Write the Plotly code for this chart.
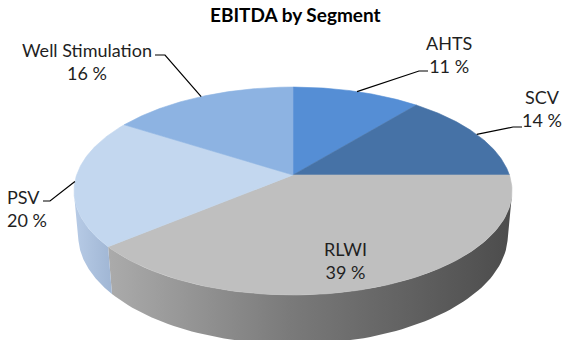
import numpy as np
import plotly.graph_objects as go

# ---- data ----
labels = ["AHTS", "SCV", "RLWI", "PSV", "Well Stimulation"]
values = [11, 14, 39, 20, 16]
pct_text = ["11 %", "14 %", "39 %", "20 %", "16 %"]
title_text = "<b>EBITDA by Segment</b>"

# ---- styles ----
top_colors = ["#558ED5", "#4672A6", "#BFBFBF", "#C3D7EF", "#8DB3E2"]
side_scales = [
    [[0, "#3f6fae"], [1, "#2d5589"]],
    [[0, "#36598a"], [1, "#2a4a75"]],
    [[0, "#ababab"], [0.45, "#7a7a7a"], [1, "#4c4c4c"]],
    [[0, "#b7cbe6"], [1, "#a0b6d4"]],
    [[0, "#7b9fce"], [1, "#6a8fbf"]],
]
FONT = "Lato"
W, H = 562, 340

# ---- geometry (pixel layout) ----
CX, CY = 293.0, 175.0
R = 216.4
SIN_A, COS_A = 0.469, 0.883
DIST = 5.73
DEPTH = 0.235


def project(phi_deg, level):
    phi = np.radians(phi_deg)
    y = -DEPTH * level
    depth = -y * SIN_A + np.sin(phi) * COS_A
    up = y * COS_A + np.sin(phi) * SIN_A
    s = DIST / (DIST + depth)
    return CX + R * np.cos(phi) * s, CY - R * up * s


total = float(sum(values))
bounds = [90.0]
for v in values:
    bounds.append(bounds[-1] - 360.0 * v / total)

# visible side range (outward normal facing camera)
lim = np.degrees(np.arcsin(1.0 / (DIST * COS_A)))
vis_lo, vis_hi = -180.0 + lim, -lim

fig = go.Figure()

# sides
for i in range(len(values)):
    a, b = bounds[i + 1], bounds[i]
    for shift in (0.0, -360.0):
        lo, hi = max(a + shift, vis_lo), min(b + shift, vis_hi)
        if hi <= lo:
            continue
        ph = np.linspace(hi, lo, 80)
        tx, ty = project(ph, 0)
        bx, by = project(ph[::-1], 1)
        xs = np.concatenate([tx, bx, tx[:1]])
        ys = np.concatenate([ty, by, ty[:1]])
        fig.add_trace(go.Scatter(
            x=xs, y=ys, mode="lines", fill="toself",
            line=dict(width=0, color=side_scales[i][-1][1]),
            fillgradient=dict(type="horizontal", colorscale=side_scales[i]),
            hoverinfo="skip", showlegend=False))

# top faces
for i in range(len(values)):
    ph = np.linspace(bounds[i], bounds[i + 1], 120)
    ax_, ay_ = project(ph, 0)
    xs = np.concatenate([[CX], ax_, [CX]])
    ys = np.concatenate([[CY], ay_, [CY]])
    fig.add_trace(go.Scatter(
        x=xs, y=ys, mode="lines", fill="toself", fillcolor=top_colors[i],
        line=dict(width=0.6, color=top_colors[i]),
        hoverinfo="skip", showlegend=False))

# labels: text centre, alignment, leader start (None = inside label)
label_layout = [
    dict(x=449, y=54, xanchor="center", align="center", lead=(428, 71), dx=-9),
    dict(x=542, y=108, xanchor="center", align="center", lead=(522, 127), dx=-9),
    dict(x=345, y=260.5, xanchor="center", align="center", lead=None, dx=0),
    dict(x=5, y=208.5, xanchor="left", align="left", lead=(43, 201), dx=7),
    dict(x=87, y=61.5, xanchor="center", align="center", lead=(155, 55), dx=10),
]

for i, lab in enumerate(labels):
    L = label_layout[i]
    fig.add_annotation(
        x=L["x"], y=L["y"], xref="x", yref="y", text=f"{lab}<br>{pct_text[i]}",
        showarrow=False, xanchor=L["xanchor"], yanchor="middle", align=L["align"],
        font=dict(family=FONT, size=18, color="#1f1f1f"))
    if L["lead"] is not None:
        mid = 0.5 * (bounds[i] + bounds[i + 1])
        px, py = project(mid, 0)
        sx, sy = L["lead"]
        fig.add_trace(go.Scatter(
            x=[sx, sx + L["dx"], float(px)], y=[sy, sy, float(py)], mode="lines",
            line=dict(color="#000000", width=1.2),
            hoverinfo="skip", showlegend=False))

fig.add_annotation(
    x=295, y=14, xref="x", yref="y", text=title_text, showarrow=False,
    xanchor="center", yanchor="middle",
    font=dict(family=FONT, size=19, color="#000000"))

fig.update_layout(
    width=W, height=H, margin=dict(l=0, r=0, t=0, b=0),
    paper_bgcolor="white", plot_bgcolor="white",
    xaxis=dict(range=[0, W], visible=False, fixedrange=True),
    yaxis=dict(range=[H, 0], visible=False, fixedrange=True),
    showlegend=False)

fig.write_html("out.html")
